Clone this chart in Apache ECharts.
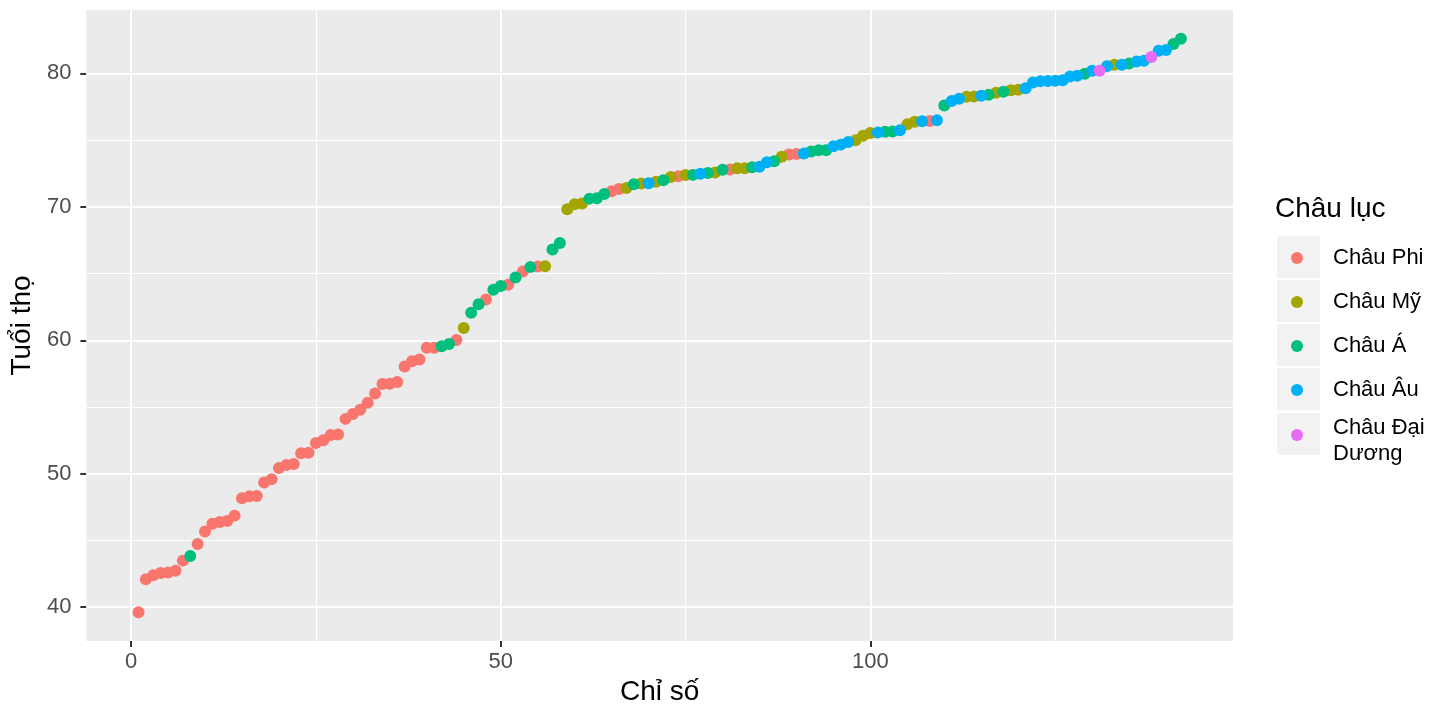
<!DOCTYPE html>
<html>
<head>
<meta charset="utf-8">
<title>Tuổi thọ theo châu lục</title>
<script src="https://cdn.jsdelivr.net/npm/echarts@6/dist/echarts.min.js"></script>
<style>
  html, body { margin: 0; padding: 0; background: #fff; }
  #chart { width: 1456px; height: 720px; }
</style>
</head>
<body>
<div id="chart"></div>
<script>
// Tuổi thọ (đã sắp xếp tăng dần), chỉ số = vị trí 1..142
var tuoiTho = [
  39.613, 42.082, 42.384, 42.568, 42.592, 42.731, 43.487, 43.828, 44.741, 45.678,
  46.242, 46.388, 46.462, 46.859, 48.159, 48.303, 48.328, 49.339, 49.580, 50.430,
  50.651, 50.728, 51.542, 51.579, 52.295, 52.517, 52.906, 52.947, 54.110, 54.467,
  54.791, 55.322, 56.007, 56.728, 56.735, 56.867, 58.040, 58.420, 58.556, 59.443,
  59.448, 59.545, 59.723, 60.022, 60.916, 62.069, 62.698, 63.062, 63.785, 64.062,
  64.164, 64.698, 65.152, 65.483, 65.528, 65.554, 66.803, 67.297, 69.819, 70.198,
  70.259, 70.616, 70.650, 70.964, 71.164, 71.338, 71.421, 71.688, 71.752, 71.777,
  71.878, 71.993, 72.235, 72.301, 72.390, 72.396, 72.476, 72.535, 72.567, 72.777,
  72.801, 72.889, 72.899, 72.961, 73.005, 73.338, 73.422, 73.747, 73.923, 73.952,
  74.002, 74.143, 74.241, 74.249, 74.543, 74.663, 74.852, 74.994, 75.320, 75.537,
  75.563, 75.635, 75.640, 75.748, 76.195, 76.384, 76.423, 76.442, 76.486, 77.588,
  77.926, 78.098, 78.242, 78.273, 78.332, 78.400, 78.553, 78.623, 78.746, 78.782,
  78.885, 79.313, 79.406, 79.425, 79.441, 79.483, 79.762, 79.829, 79.972, 80.196,
  80.204, 80.546, 80.653, 80.657, 80.745, 80.884, 80.941, 81.235, 81.701, 81.757,
  82.208, 82.603
];

// châu lục của từng điểm: F = Phi, M = Mỹ, A = Á, E = Âu, O = Đại Dương
var maChauLuc = [
  'F','F','F','F','F','F','F','A','F','F',
  'F','F','F','F','F','F','F','F','F','F',
  'F','F','F','F','F','F','F','F','F','F',
  'F','F','F','F','F','F','F','F','F','F',
  'F','A','A','F','M','A','A','F','A','A',
  'F','A','F','A','F','M','A','A','M','M',
  'M','A','A','A','F','F','M','A','M','E',
  'M','A','M','F','M','A','E','A','M','A',
  'F','M','M','A','E','E','A','M','F','F',
  'E','A','A','A','E','E','E','M','M','M',
  'E','A','A','E','M','M','E','F','E','A',
  'E','E','M','M','E','A','M','A','M','M',
  'E','E','E','E','E','E','E','E','A','E',
  'O','E','M','E','A','E','E','O','E','E',
  'A','A'
];

var chauLuc = ['Châu Phi', 'Châu Mỹ', 'Châu Á', 'Châu Âu', 'Châu Đại Dương'];
var maCL = ['F', 'M', 'A', 'E', 'O'];
var mauCL = ['#F8766D', '#A3A500', '#00BF7D', '#00B0F6', '#E76BF3'];

var nhanX = [0, 50, 100];
var nhanY = [40, 50, 60, 70, 80];
var luoiPhuX = [25, 75, 125];
var luoiPhuY = [45, 55, 65, 75];

// ggplot mở rộng 5% mỗi phía
var xMin = 1 - 0.05 * 141, xMax = 142 + 0.05 * 141;
var yLo = Math.min.apply(null, tuoiTho), yHi = Math.max.apply(null, tuoiTho);
var yMin = yLo - 0.05 * (yHi - yLo), yMax = yHi + 0.05 * (yHi - yLo);

var FONT = 'Liberation Sans, Arial, sans-serif';
var chart = echarts.init(document.getElementById('chart'), null, { renderer: 'canvas' });

function gridLines() {
  var data = [];
  nhanX.forEach(function (v) { data.push({ xAxis: v, lineStyle: { width: 2 } }); });
  luoiPhuX.forEach(function (v) { data.push({ xAxis: v, lineStyle: { width: 1 } }); });
  nhanY.forEach(function (v) { data.push({ yAxis: v, lineStyle: { width: 2 } }); });
  luoiPhuY.forEach(function (v) { data.push({ yAxis: v, lineStyle: { width: 1 } }); });
  return data;
}

var series = [{
  name: 'grid',
  type: 'line',
  data: [],
  silent: true,
  z: 1,
  markLine: {
    z: 1,
    silent: true,
    symbol: ['none', 'none'],
    label: { show: false },
    lineStyle: { color: '#FFFFFF', type: 'solid' },
    emphasis: { disabled: true },
    animation: false,
    data: gridLines()
  }
}];

maCL.forEach(function (ma, k) {
  var pts = [];
  for (var i = 0; i < tuoiTho.length; i++) {
    if (maChauLuc[i] === ma) pts.push([i + 1, tuoiTho[i]]);
  }
  series.push({
    name: chauLuc[k],
    type: 'scatter',
    data: pts,
    symbolSize: 12,
    z: 3,
    itemStyle: { color: mauCL[k], opacity: 1 },
    emphasis: { disabled: true }
  });
});

var legendBase = {
  orient: 'vertical',
  left: 1286,
  icon: 'circle',
  itemWidth: 12,
  itemHeight: 12,
  itemGap: 18,
  selectedMode: false,
  textStyle: {
    fontSize: 22, color: '#000000', fontFamily: FONT, padding: [0, 0, 0, 25], lineHeight: 26,
    rich: { s: { fontSize: 1, lineHeight: 12 } }
  }
};

var option = {
  backgroundColor: '#FFFFFF',
  animation: false,
  textStyle: { fontFamily: FONT },
  grid: {
    left: 86,
    right: 223,
    top: 10,
    bottom: 79,
    show: true,
    backgroundColor: '#EBEBEB',
    borderWidth: 0
  },
  xAxis: {
    type: 'value',
    min: xMin,
    max: xMax,
    name: 'Chỉ số',
    nameLocation: 'middle',
    nameGap: 36,
    nameTextStyle: { fontSize: 28, color: '#000000' },
    axisLine: { show: false, onZero: false },
    axisTick: { show: true, length: 6, customValues: nhanX, lineStyle: { color: '#333333', width: 2 } },
    axisLabel: { customValues: nhanX, fontSize: 22, color: '#4D4D4D', margin: 10 },
    splitLine: { show: false }
  },
  yAxis: {
    type: 'value',
    min: yMin,
    max: yMax,
    name: 'Tuổi thọ',
    nameLocation: 'middle',
    nameGap: 42,
    nameRotate: 90,
    nameTextStyle: { fontSize: 28, color: '#000000' },
    axisLine: { show: false, onZero: false },
    axisTick: { show: true, length: 6, customValues: nhanY, lineStyle: { color: '#333333', width: 2 } },
    axisLabel: { customValues: nhanY, fontSize: 22, color: '#4D4D4D', margin: 15 },
    splitLine: { show: false }
  },
  legend: [
    echarts.util.extend({ top: 240, data: chauLuc.slice(0, 4) }, legendBase),
    echarts.util.extend({
      top: 398,
      data: [chauLuc[4]],
      formatter: function () { return '{s| }\nChâu Đại\nDương'; }
    }, legendBase)
  ],
  graphic: [
    { type: 'text', left: 1275, top: 195, style: { text: 'Châu lục', fontSize: 28, fill: '#000000', fontFamily: FONT } },
    { type: 'rect', left: 1277, top: 236, z: -1, shape: { width: 43, height: 42 }, style: { fill: '#F2F2F2' } },
    { type: 'rect', left: 1277, top: 280, z: -1, shape: { width: 43, height: 42 }, style: { fill: '#F2F2F2' } },
    { type: 'rect', left: 1277, top: 324, z: -1, shape: { width: 43, height: 42 }, style: { fill: '#F2F2F2' } },
    { type: 'rect', left: 1277, top: 368, z: -1, shape: { width: 43, height: 42 }, style: { fill: '#F2F2F2' } },
    { type: 'rect', left: 1277, top: 413, z: -1, shape: { width: 43, height: 42 }, style: { fill: '#F2F2F2' } }
  ],
  series: series
};

chart.setOption(option);
</script>
</body>
</html>
